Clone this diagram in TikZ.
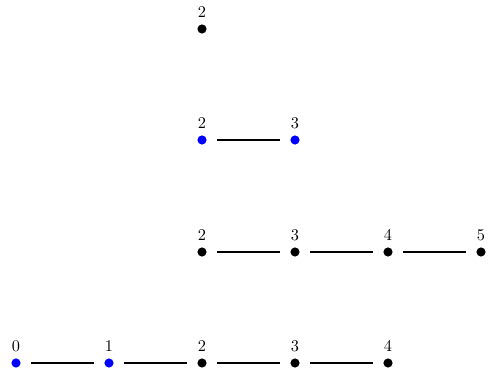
\documentclass[tikz,border=0pt]{standalone}
\begin{document}
\begin{tikzpicture}[x=0.612pt,y=-0.612pt,
  dotnode/.style={circle,fill=black,inner sep=0pt,minimum size=5.6pt},
  bluedot/.style={dotnode,fill=blue},
  lbl/.style={anchor=base,inner sep=0pt,font=\normalsize},
  edge/.style={line width=0.8pt,shorten >=6.3pt,shorten <=6.3pt}]
\useasboundingbox (0,0) rectangle (488,371);
% row 1
\node[dotnode] (a2) at (202,29) {};
% row 2
\node[bluedot] (b2) at (202,140) {};
\node[bluedot] (b3) at (295,140) {};
% row 3
\node[dotnode] (c2) at (202,252) {};
\node[dotnode] (c3) at (295,252) {};
\node[dotnode] (c4) at (388,252) {};
\node[dotnode] (c5) at (481,252) {};
% row 4
\node[bluedot] (d0) at (16,363) {};
\node[bluedot] (d1) at (109,363) {};
\node[dotnode] (d2) at (202,363) {};
\node[dotnode] (d3) at (295,363) {};
\node[dotnode] (d4) at (388,363) {};
% labels
\foreach \n/\t in {a2/2,b2/2,b3/3,c2/2,c3/3,c4/4,c5/5,d0/0,d1/1,d2/2,d3/3,d4/4}
  \node[lbl] (l\n) at ([yshift=6.8pt]\n.center) {\t};
% edges
\draw[edge] (b2) -- (b3);
\draw[edge] (c2) -- (c3);
\draw[edge] (c3) -- (c4);
\draw[edge] (c4) -- (c5);
\draw[edge] (d0) -- (d1);
\draw[edge] (d1) -- (d2);
\draw[edge] (d2) -- (d3);
\draw[edge] (d3) -- (d4);
\end{tikzpicture}
\end{document}
